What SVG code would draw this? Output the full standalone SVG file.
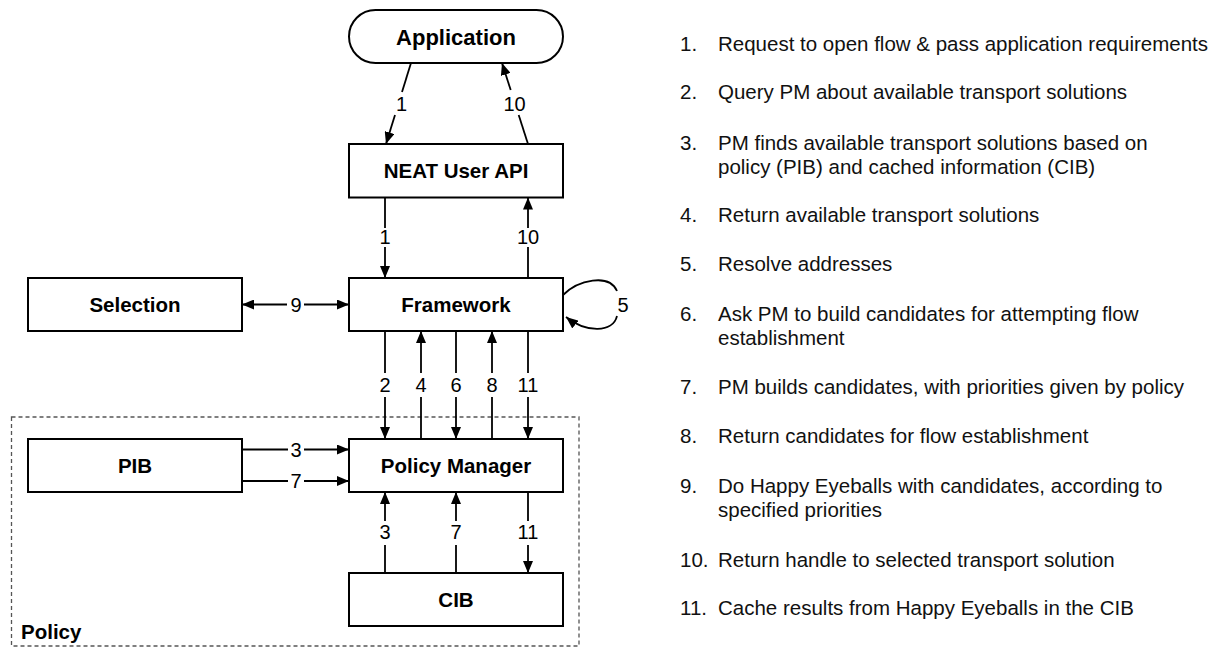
<svg xmlns="http://www.w3.org/2000/svg" width="1220" height="648" viewBox="0 0 1220 648">
<style>
.box{fill:#fff;stroke:#000;stroke-width:2}
.lbl{font-family:"Liberation Sans",Arial,Helvetica,sans-serif;font-weight:bold;font-size:20.5px;text-anchor:middle;fill:#000}
.num{font-family:"Liberation Sans",Arial,Helvetica,sans-serif;font-size:20px;text-anchor:middle;fill:#000}
.ln{fill:none;stroke:#000;stroke-width:1.8}
.ar{fill:none;stroke:#000;stroke-width:1.8;marker-end:url(#ah)}
.lst{font-family:"Liberation Sans",Arial,Helvetica,sans-serif;font-size:20.5px;fill:#111}
</style>
<defs>
<marker id="ah" markerUnits="userSpaceOnUse" markerWidth="12" markerHeight="10" refX="12" refY="5" orient="auto">
<path d="M0,0 L12,5 L0,10 z" fill="#000"/>
</marker>
</defs>
<g id="policy-group">
<rect x="11.5" y="417" width="567.5" height="229" fill="none" stroke="#555" stroke-width="1.3" stroke-dasharray="4,3"/>
<text x="21" y="639" class="lbl" style="text-anchor:start">Policy</text>
</g>
<g id="application">
<rect x="349" y="10" width="214" height="53" rx="26.5" ry="26.5" class="box"/>
<text x="456" y="44.5" class="lbl" style="font-size:22px">Application</text>
</g>
<g id="neat-user-api">
<rect x="349" y="144" width="214" height="53.5" class="box"/>
<text x="456" y="178" class="lbl">NEAT User API</text>
</g>
<g id="selection">
<rect x="28" y="278" width="214" height="53" class="box"/>
<text x="135" y="311.5" class="lbl">Selection</text>
</g>
<g id="framework">
<rect x="349" y="278" width="214" height="53" class="box"/>
<text x="456" y="311.5" class="lbl">Framework</text>
</g>
<g id="pib">
<rect x="28" y="439" width="214" height="53" class="box"/>
<text x="135" y="472.5" class="lbl">PIB</text>
</g>
<g id="policy-manager">
<rect x="349" y="439" width="214" height="53" class="box"/>
<text x="456" y="472.5" class="lbl">Policy Manager</text>
</g>
<g id="cib">
<rect x="349" y="573" width="214" height="53" class="box"/>
<text x="456" y="606.5" class="lbl">CIB</text>
</g>
<g id="connectors">
<!-- 1 App -> NEAT -->
<line x1="411" y1="63" x2="402" y2="92" class="ln"/>
<line x1="395" y1="115" x2="386" y2="144" class="ar"/>
<text x="401.5" y="110.5" class="num">1</text>
<!-- 10 NEAT -> App -->
<line x1="528" y1="144" x2="518.7" y2="115" class="ln"/>
<line x1="510.7" y1="90" x2="502" y2="63" class="ar"/>
<text x="514.5" y="110.5" class="num">10</text>
<!-- 1 NEAT -> Framework -->
<line x1="385" y1="197.5" x2="385" y2="228" class="ln"/>
<line x1="385" y1="247" x2="385" y2="278" class="ar"/>
<text x="385" y="244" class="num">1</text>
<!-- 10 Framework -> NEAT -->
<line x1="528" y1="278" x2="528" y2="247" class="ln"/>
<line x1="528" y1="228" x2="528" y2="197.5" class="ar"/>
<text x="528" y="244" class="num">10</text>
<!-- 9 Selection <-> Framework -->
<line x1="287" y1="304.5" x2="242" y2="304.5" class="ar"/>
<line x1="304" y1="304.5" x2="349" y2="304.5" class="ar"/>
<text x="296" y="311.5" class="num">9</text>
<!-- 5 self loop -->
<path d="M563,295 C578,280 609,273 617,291" class="ln"/>
<path d="M617,316 C613,333 586,333 566,317" class="ar"/>
<text x="623" y="311.5" class="num">5</text>
<!-- 2 Framework -> PM -->
<line x1="385" y1="331" x2="385" y2="373" class="ln"/>
<line x1="385" y1="397" x2="385" y2="439" class="ar"/>
<text x="385" y="392" class="num">2</text>
<!-- 4 PM -> Framework -->
<line x1="421" y1="439" x2="421" y2="397" class="ln"/>
<line x1="421" y1="373" x2="421" y2="331" class="ar"/>
<text x="421" y="392" class="num">4</text>
<!-- 6 Framework -> PM -->
<line x1="456" y1="331" x2="456" y2="373" class="ln"/>
<line x1="456" y1="397" x2="456" y2="439" class="ar"/>
<text x="456" y="392" class="num">6</text>
<!-- 8 PM -> Framework -->
<line x1="492" y1="439" x2="492" y2="397" class="ln"/>
<line x1="492" y1="373" x2="492" y2="331" class="ar"/>
<text x="492" y="392" class="num">8</text>
<!-- 11 Framework -> PM -->
<line x1="528" y1="331" x2="528" y2="373" class="ln"/>
<line x1="528" y1="397" x2="528" y2="439" class="ar"/>
<text x="528" y="392" class="num">11</text>
<!-- 3 PIB -> PM -->
<line x1="242" y1="449.5" x2="288" y2="449.5" class="ln"/>
<line x1="304" y1="449.5" x2="349" y2="449.5" class="ar"/>
<text x="296" y="456.5" class="num">3</text>
<!-- 7 PIB -> PM -->
<line x1="242" y1="481" x2="288" y2="481" class="ln"/>
<line x1="304" y1="481" x2="349" y2="481" class="ar"/>
<text x="296" y="488" class="num">7</text>
<!-- 3 CIB -> PM -->
<line x1="385" y1="573" x2="385" y2="545" class="ln"/>
<line x1="385" y1="521" x2="385" y2="492" class="ar"/>
<text x="385" y="539" class="num">3</text>
<!-- 7 CIB -> PM -->
<line x1="456" y1="573" x2="456" y2="545" class="ln"/>
<line x1="456" y1="521" x2="456" y2="492" class="ar"/>
<text x="456" y="539" class="num">7</text>
<!-- 11 PM -> CIB -->
<line x1="528" y1="492" x2="528" y2="521" class="ln"/>
<line x1="528" y1="545" x2="528" y2="573" class="ar"/>
<text x="528" y="539" class="num">11</text>
</g>
<g id="legend" class="lst">
<text x="680" y="50.7">1.</text><text x="718" y="50.7">Request to open flow &amp; pass application requirements</text>
<text x="680" y="99.3">2.</text><text x="718" y="99.3">Query PM about available transport solutions</text>
<text x="680" y="150">3.</text><text x="718" y="150">PM finds available transport solutions based on</text>
<text x="718" y="173.5">policy (PIB) and cached information (CIB)</text>
<text x="680" y="222">4.</text><text x="718" y="222">Return available transport solutions</text>
<text x="680" y="271">5.</text><text x="718" y="271">Resolve addresses</text>
<text x="680" y="321">6.</text><text x="718" y="321">Ask PM to build candidates for attempting flow</text>
<text x="718" y="344.5">establishment</text>
<text x="680" y="394">7.</text><text x="718" y="394">PM builds candidates, with priorities given by policy</text>
<text x="680" y="443">8.</text><text x="718" y="443">Return candidates for flow establishment</text>
<text x="680" y="493">9.</text><text x="718" y="493">Do Happy Eyeballs with candidates, according to</text>
<text x="718" y="516.5">specified priorities</text>
<text x="680" y="567">10.</text><text x="718" y="567">Return handle to selected transport solution</text>
<text x="680" y="615">11.</text><text x="718" y="615">Cache results from Happy Eyeballs in the CIB</text>
</g>
</svg>
